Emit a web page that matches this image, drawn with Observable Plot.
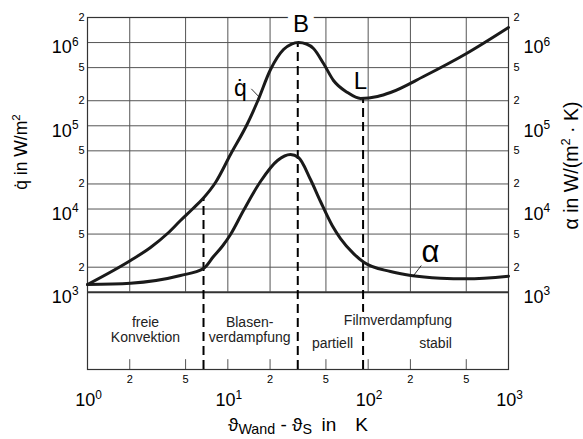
<!DOCTYPE html>
<html>
<head>
<meta charset="utf-8">
<script src="https://cdn.jsdelivr.net/npm/d3@7"></script>
<script src="https://cdn.jsdelivr.net/npm/@observablehq/plot@0.6"></script>
<style>
  html, body { margin: 0; padding: 0; background: #fff; }
</style>
</head>
<body>
<div id="chart"></div>
<script>
// ---- data ----
const qX = [1, 2.025, 2.812, 3.716, 4.599, 5.602, 6.708, 8.167, 10.45, 13.81, 16.27, 20.15, 24.93, 28.43, 31.89, 36.35, 40.77, 48.06, 56.62, 71.25, 88.19, 116.6, 144.3, 248, 502, 1000];
const qY = [1239, 2407, 3449, 5078, 7278, 10000, 13560, 20820, 45190, 106500, 195700, 474600, 825000, 960700, 1001400, 960700, 848000, 560200, 350100, 251100, 212700, 224800, 251100, 391000, 738700, 1516000];

const alphaX = [1, 2.025, 4.599, 6.708, 7.905, 9.166, 10.45, 12.93, 17.09, 22.59, 27.96, 31.89, 38.82, 45.76, 55.42, 63.53, 79.02, 93.11, 144.3, 201.3, 327.8, 502, 1000];
const alphaY = [1239, 1284, 1589, 1929, 2688, 3594, 4940, 9596, 21410, 38280, 45190, 41580, 22620, 12310, 6338, 4423, 2897, 2296, 1775, 1589, 1475, 1450, 1558];

// dashed boundaries: x position and upper end (on the q curve)
const dashX = [6.71, 31.5, 92];
const dashTop = [13560, 1001400, 212700];

// grid & ticks
const xGrid = [2, 5, 10, 20, 50, 100, 200, 500];
const xMinor = [2, 5, 20, 50, 200, 500];
const xMajor = [1, 10, 100, 1000];
const yGrid = [2e3, 5e3, 1e4, 2e4, 5e4, 1e5, 2e5, 5e5, 1e6];
const yMinor = [2e3, 5e3, 2e4, 5e4, 2e5, 5e5, 2e6];
const yMajor = [1e3, 1e4, 1e5, 1e6];
const yBottom = 118;      // lower edge of the regime-label band
const yTickTop = 155;     // inner bottom tick length
const xDomain = [1, 1000];
const yDomain = [yBottom, 2e6];

// curve annotations
const noteText = ["L", "q\u0307", "\u03b1"];
const noteX = [88.2, 12.3, 278];
const noteY = [340000, 280000, 3020];
const noteSize = [24, 23, 31];
const bText = ["B"], bX = [33.2], bY = [1670000];

// leader lines: q-dot and alpha
const leadX1 = [14.7, 209], leadY1 = [278000, 1560];
const leadX2 = [16.5, 239], leadY2 = [227000, 2095];

// regime labels in the lower band
const regionText = ["freie\nKonvektion", "Blasen-\nverdampfung", "partiell", "stabil"];
const regionX = [2.59, 14.3, 55.7, 302];
const regionY = [352, 352, 245, 245];
const filmText = ["Filmverdampfung"], filmX = [163], filmY = [463];

const titleY = "q\u0307 in W/m^{2}";
const titleY2 = "\u03b1 in W/(m^{2} \u00b7 K)";
const titleX = "\u03d1_{Wand} - \u03d1_{S}\u2002in\u2003K";

// ---- build ----
const zip = (xs, ys) => xs.map((x, i) => ({x, y: ys[i]}));
const notes = noteText.map((t, i) => ({t, x: noteX[i], y: noteY[i], s: noteSize[i]}));
const regions = regionText.map((t, i) => ({t, x: regionX[i], y: regionY[i]}));
const dashes = dashX.map((x, i) => ({x, y1: yBottom, y2: dashTop[i]}));
const leads = leadX1.map((x, i) => ({x1: x, y1: leadY1[i], x2: leadX2[i], y2: leadY2[i]}));
const sup = d => "10^{" + Math.round(Math.log10(d)) + "}";
const minorFmt = d => String(Math.round(d / Math.pow(10, Math.floor(Math.log10(d) + 1e-9))));
const gridColor = "#555";
const ink = "#1a1a1a";

const chart = Plot.plot({
  width: 583,
  height: 439,
  marginLeft: 87,
  marginRight: 75,
  marginTop: 17,
  marginBottom: 70,
  style: {fontFamily: "'Liberation Sans', Arial, sans-serif", background: "#fff", color: "#000", overflow: "visible"},
  x: {type: "log", domain: xDomain, axis: null},
  y: {type: "log", domain: yDomain, axis: null},
  marks: [
    Plot.ruleX(xGrid, {y1: 1e3, y2: yDomain[1], stroke: gridColor, strokeWidth: 1}),
    Plot.ruleY(yGrid, {stroke: gridColor, strokeWidth: 1}),
    Plot.ruleX(xGrid, {y1: yBottom, y2: yTickTop, stroke: gridColor, strokeWidth: 1}),
    Plot.ruleY([1e3], {stroke: "#333", strokeWidth: 2}),
    Plot.frame({stroke: "#333", strokeWidth: 1.2}),
    Plot.text(bText, {x: bX, y: bY, text: d => d, fontSize: 24, stroke: "#fff", strokeWidth: 14, fill: "#000"}),
    Plot.ruleX(dashes, {x: "x", y1: "y1", y2: "y2", stroke: "#000", strokeWidth: 2, strokeDasharray: "9,5"}),
    Plot.line(zip(qX, qY), {x: "x", y: "y", curve: "monotone-x", stroke: ink, strokeWidth: 3}),
    Plot.line(zip(alphaX, alphaY), {x: "x", y: "y", curve: "monotone-x", stroke: ink, strokeWidth: 3}),
    Plot.link(leads, {x1: "x1", y1: "y1", x2: "x2", y2: "y2", stroke: "#000", strokeWidth: 0.8}),
    Plot.text(notes, {x: "x", y: "y", text: "t", fontSize: d => d.s, fill: "#000"}),
    Plot.text(regions, {x: "x", y: "y", text: "t", fontSize: 14, lineHeight: 1.07, fill: "#222"}),
    Plot.text(filmText, {x: filmX, y: filmY, text: d => d, fontSize: 14, fill: "#222", stroke: "#fff", strokeWidth: 10}),
    // y tick labels (left and right)
    Plot.text(yMajor, {x: xDomain[0], y: d => d, text: sup, textAnchor: "end", dx: -9, dy: 5, fontSize: 18}),
    Plot.text(yMinor, {x: xDomain[0], y: d => d, text: minorFmt, textAnchor: "end", dx: -3, fontSize: 11}),
    Plot.text(yMajor, {x: xDomain[1], y: d => d, text: sup, textAnchor: "start", dx: 15, dy: 5, fontSize: 18}),
    Plot.text(yMinor, {x: xDomain[1], y: d => d, text: minorFmt, textAnchor: "start", dx: 5, fontSize: 11}),
    // x tick labels
    Plot.text(xMinor, {x: d => d, y: yBottom, text: minorFmt, dy: 10, fontSize: 11}),
    Plot.text(xMajor, {x: d => d, y: yBottom, text: sup, dy: 31, dx: 1, fontSize: 18}),
    // axis titles
    Plot.text([titleY], {frameAnchor: "left", y: [48400], text: d => d, rotate: -90, textAnchor: "middle", lineAnchor: "middle", dx: -66, fontSize: 17.5}),
    Plot.text([titleY2], {frameAnchor: "right", y: [33300], text: d => d, rotate: -90, textAnchor: "middle", lineAnchor: "middle", dx: 63, fontSize: 19.5}),
    Plot.text([titleX], {frameAnchor: "bottom", text: d => d, textAnchor: "middle", lineAnchor: "middle", dy: 55, fontSize: 19})
  ]
});

// turn ^{..} and _{..} into raised / lowered tspans
function richify(svg) {
  d3.select(svg).selectAll("text").each(function () {
    const el = this;
    if (el.querySelector("tspan")) return;
    const s = el.textContent;
    if (!/[\^_]\{/.test(s)) return;
    const fs = parseFloat(getComputedStyle(el).fontSize) || 12;
    const parts = [];
    const re = /([\^_])\{([^}]*)\}/g;
    let last = 0, m;
    while ((m = re.exec(s))) {
      if (m.index > last) parts.push({k: "n", t: s.slice(last, m.index)});
      parts.push({k: m[1] === "^" ? "sup" : "sub", t: m[2]});
      last = re.lastIndex;
    }
    if (last < s.length) parts.push({k: "n", t: s.slice(last)});
    el.textContent = "";
    let shift = 0;
    for (const p of parts) {
      const ts = document.createElementNS("http://www.w3.org/2000/svg", "tspan");
      let target = 0;
      if (p.k === "sup") { target = -0.42 * fs; ts.setAttribute("font-size", (0.66 * fs).toFixed(1)); }
      if (p.k === "sub") { target = 0.2 * fs; ts.setAttribute("font-size", (0.75 * fs).toFixed(1)); }
      const d = target - shift;
      if (d !== 0) ts.setAttribute("dy", d.toFixed(2));
      shift = target;
      ts.textContent = p.t;
      el.appendChild(ts);
    }
  });
}

document.getElementById("chart").appendChild(chart);
richify(chart);
</script>
</body>
</html>
